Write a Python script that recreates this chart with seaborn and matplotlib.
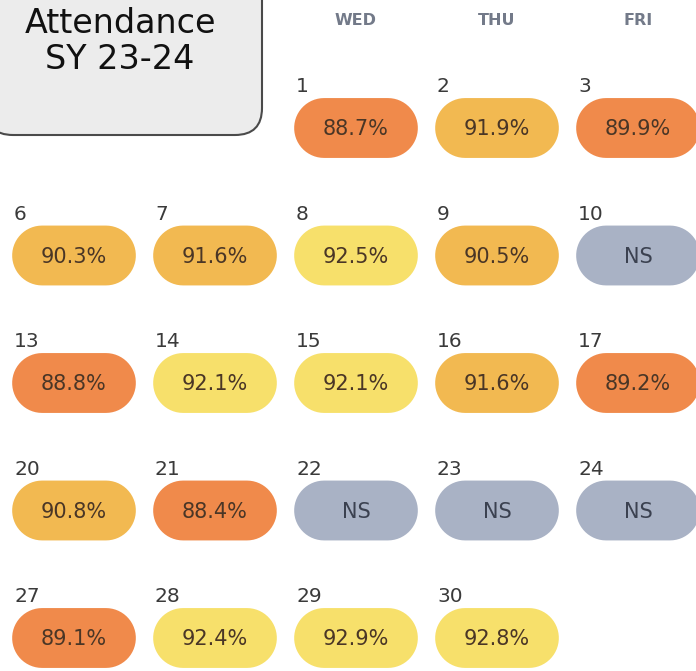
import numpy as np
import pandas as pd
import matplotlib
matplotlib.use("Agg")
import matplotlib.pyplot as plt
import seaborn as sns
from matplotlib.path import Path
from matplotlib.patches import FancyBboxPatch

# calendar data (month view, Mon-Fri columns)
headers = ["WED", "THU", "FRI"]
header_cols = [2, 3, 4]
days = [1, 2, 3, 6, 7, 8, 9, 10, 13, 14, 15, 16, 17, 20, 21, 22, 23, 24, 27, 28, 29, 30]
weekday = [2, 3, 4, 0, 1, 2, 3, 4, 0, 1, 2, 3, 4, 0, 1, 2, 3, 4, 0, 1, 2, 3]
week = [0, 0, 0, 1, 1, 1, 1, 1, 2, 2, 2, 2, 2, 3, 3, 3, 3, 3, 4, 4, 4, 4]
attendance = [88.7, 91.9, 89.9, 90.3, 91.6, 92.5, 90.5, None, 88.8, 92.1, 92.1, 91.6,
              89.2, 90.8, 88.4, None, None, None, 89.1, 92.4, 92.9, 92.8]


def band(v):
    if v is None:
        return "ns"
    if v < 90:
        return "low"
    if v < 92:
        return "mid"
    return "high"


df = pd.DataFrame({"day": days, "col": weekday, "row": week, "pct": attendance})
df["band"] = [band(v) for v in attendance]
df["label"] = ["NS" if v is None else f"{v:.1f}%" for v in attendance]

palette = {"low": "#f08a4b", "mid": "#f2b951", "high": "#f7e06b", "ns": "#a9b2c5"}

# pill shaped marker
r = 0.484
t1 = np.linspace(-np.pi / 2, np.pi / 2, 30)
t2 = np.linspace(np.pi / 2, 3 * np.pi / 2, 30)
verts = np.concatenate([
    np.column_stack([(1 - r) + r * np.cos(t1), r * np.sin(t1)]),
    np.column_stack([-(1 - r) + r * np.cos(t2), r * np.sin(t2)]),
])
verts = np.vstack([verts, verts[:1]])
pill = Path(verts, closed=True)

sns.set_theme(style="white")
plt.rcParams["font.family"] = ["DejaVu Sans"]

fig = plt.figure(figsize=(6.96, 6.71), dpi=100)
ax = fig.add_axes([0, 0, 1, 1])

sns.scatterplot(data=df, x="col", y="row", hue="band", palette=palette,
                marker=pill, s=89 ** 2, linewidth=0, legend=False, ax=ax, zorder=2)

ax.set_xlim(-74 / 141, (696 - 74) / 141)
ax.set_ylim((671 - 128) / 127.5, -128 / 127.5)
ax.set_axis_off()

for _, d in df.iterrows():
    ax.text(d["col"], d["row"] + 0.01, d["label"], ha="center", va="center",
            fontsize=15, color="#3b4150" if d["band"] == "ns" else "#4a3626", zorder=3)
    ax.text(d["col"] - 60 / 141, d["row"] - 36 / 127.5, str(d["day"]), ha="left",
            va="baseline", fontsize=14.5, color="#3a3a3a", zorder=3)

for h, c in zip(headers, header_cols):
    ax.text(c, -1.0 + 20 / 127.5, h, ha="center", va="center", fontsize=11.5,
            fontweight="bold", color="#737a89")

# title box
ax2 = fig.add_axes([0, 0, 1, 1], zorder=-1)
ax2.set_xlim(0, 696)
ax2.set_ylim(671, 0)
ax2.set_axis_off()
box = FancyBboxPatch((-14, -40), 276, 175, boxstyle="round,pad=0,rounding_size=27",
                     facecolor="#ececec", edgecolor="#4a4a4a", linewidth=1.5)
ax2.add_patch(box)
ax2.text(120, 33, "Attendance", ha="center", va="baseline", fontsize=24, color="#111111")
ax2.text(120, 69, "SY 23-24", ha="center", va="baseline", fontsize=24, color="#111111")

fig.savefig("out.png", dpi=100)
